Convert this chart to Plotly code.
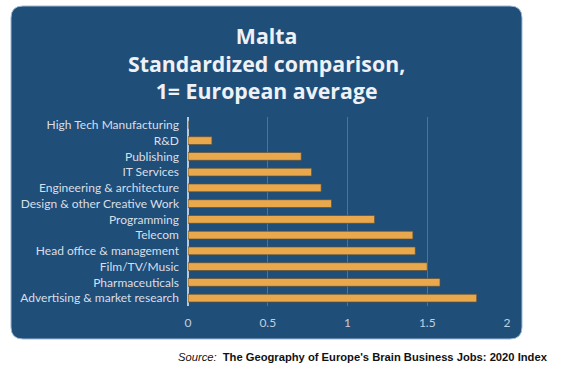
import plotly.graph_objects as go

categories = ["Advertising & market research", "Pharmaceuticals", "Film/TV/Music",
              "Head office & management", "Telecom", "Programming",
              "Design & other Creative Work", "Engineering & architecture",
              "IT Services", "Publishing", "R&D", "High Tech Manufacturing"]
values = [1.81, 1.58, 1.50, 1.425, 1.41, 1.17, 0.90, 0.835, 0.775, 0.71, 0.15, 0.0]
x_ticks = [0, 0.5, 1, 1.5, 2]
x_tick_labels = ["0", "0.5", "1", "1.5", "2"]

W, H = 568, 378
L, R, T, B = 188, 61, 117, 72
PW, PH = W - L - R, H - T - B

def px(x):
    return (x - L) / PW

def py(y):
    return (H - B - y) / PH

# rounded panel
x0, x1, y0, y1, r = 11, 522, 6, 339, 12
def pt(x, y):
    return f"{px(x):.5f},{py(y):.5f}"
path = (f"M {pt(x0 + r, y0)} L {pt(x1 - r, y0)} Q {pt(x1, y0)} {pt(x1, y0 + r)} "
        f"L {pt(x1, y1 - r)} Q {pt(x1, y1)} {pt(x1 - r, y1)} "
        f"L {pt(x0 + r, y1)} Q {pt(x0, y1)} {pt(x0, y1 - r)} "
        f"L {pt(x0, y0 + r)} Q {pt(x0, y0)} {pt(x0 + r, y0)} Z")

fig = go.Figure()
fig.add_trace(go.Bar(
    y=categories, x=values, orientation="h", width=0.5,
    marker=dict(color="#E9A84B", line=dict(color="#5e5038", width=0.7)),
    hoverinfo="x+y",
))

fig.update_layout(
    width=W, height=H,
    margin=dict(l=L, r=R, t=T, b=B),
    paper_bgcolor="white", plot_bgcolor="rgba(0,0,0,0)",
    showlegend=False,
    font=dict(family="Lato, Open Sans, sans-serif", color="#d6dde6", size=12),
    xaxis=dict(range=[0, 2], tickvals=x_ticks, ticktext=x_tick_labels,
               showgrid=True, gridcolor="rgba(160,185,215,0.35)", gridwidth=1,
               zeroline=True, zerolinecolor="#b8c8dc", zerolinewidth=1.5,
               showline=False, ticks="", ticklabelstandoff=8,
               tickfont=dict(size=12, color="#c4cfdc"), fixedrange=True),
    yaxis=dict(categoryorder="array", categoryarray=categories,
               range=[-0.5, len(categories) - 0.5],
               showgrid=False, ticks="", ticklabelstandoff=8,
               tickfont=dict(size=12, color="#d9dfe7"), fixedrange=True),
    shapes=[dict(type="path", xref="paper", yref="paper", path=path,
                 fillcolor="#1F4E79", line=dict(color="#9db7d4", width=1), layer="below")],
    annotations=[
        dict(text="<b>Malta<br>Standardized comparison,<br>1= European average</b>",
             xref="paper", yref="paper", x=px(266.5), y=py(63), xanchor="center", yanchor="middle",
             showarrow=False, align="center",
             font=dict(family="Open Sans, Lato, sans-serif", size=21.3, color="#eef1f5")),
        dict(text="<i>Source:</i>  <b>The Geography of Europe's Brain Business Jobs: 2020 Index</b>",
             xref="paper", yref="paper", x=px(550), y=py(357), xanchor="right", yanchor="middle",
             showarrow=False,
             font=dict(family="Liberation Sans, Arial, sans-serif", size=11.2, color="#111111")),
    ],
)

fig.write_html("out.html", post_script="document.body.style.margin='0';",
               config={"displayModeBar": False})
